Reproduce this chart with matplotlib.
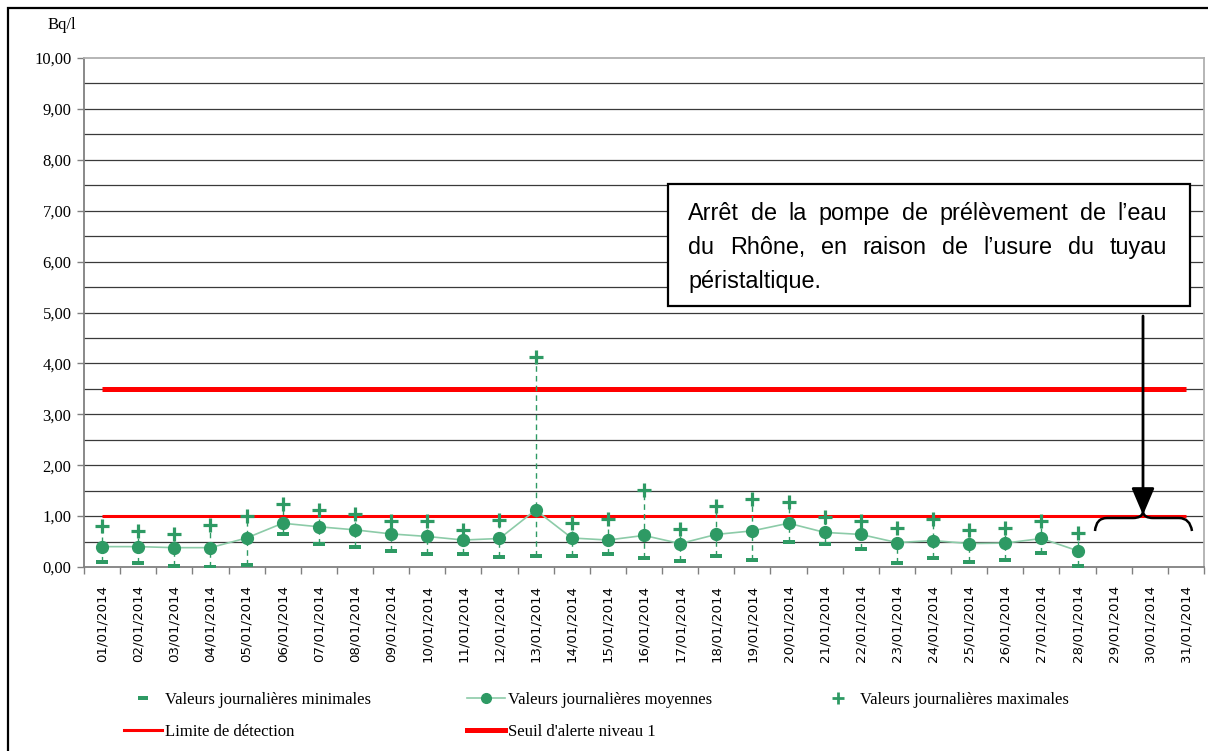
import matplotlib
matplotlib.use("Agg")
import matplotlib.pyplot as plt
from matplotlib.lines import Line2D
from matplotlib.patches import Rectangle, FancyArrowPatch, PathPatch
from matplotlib.path import Path
import numpy as np

# ---------------- data ----------------
dates = ["%02d/01/2014" % d for d in range(1, 32)]
val_min = [0.10, 0.07, 0.01, 0.00, 0.03, 0.64, 0.45, 0.40, 0.32, 0.26,
           0.26, 0.20, 0.22, 0.22, 0.26, 0.18, 0.11, 0.22, 0.14, 0.50,
           0.46, 0.35, 0.08, 0.18, 0.10, 0.14, 0.27, 0.01]
val_moy = [0.40, 0.40, 0.38, 0.38, 0.57, 0.86, 0.79, 0.73, 0.65, 0.60,
           0.53, 0.56, 1.12, 0.57, 0.53, 0.62, 0.46, 0.64, 0.71, 0.86,
           0.68, 0.64, 0.48, 0.52, 0.46, 0.47, 0.56, 0.32]
val_max = [0.81, 0.71, 0.64, 0.82, 1.00, 1.24, 1.12, 1.04, 0.91, 0.91,
           0.73, 0.92, 4.13, 0.87, 0.94, 1.51, 0.74, 1.20, 1.33, 1.28,
           0.99, 0.91, 0.77, 0.95, 0.72, 0.77, 0.91, 0.67]
limite_detection = 1.0
seuil_alerte = 3.5
y_ticks = [0, 1, 2, 3, 4, 5, 6, 7, 8, 9, 10]

legend_labels = ["Valeurs journalières minimales", "Valeurs journalières moyennes",
                 "Valeurs journalières maximales", "Limite de détection",
                 "Seuil d'alerte niveau 1"]
note_lines = ["Arrêt de la pompe de prélèvement de l’eau",
              "du Rhône, en raison de l’usure du tuyau",
              "péristaltique."]

# ---------------- figure ----------------
W, H = 1208, 751
fig = plt.figure(figsize=(W / 100, H / 100), dpi=100)
fig.patch.set_facecolor("white")

def px(x, y):
    return (x / W, 1 - y / H)

# outer frame
fig.patches.append(Rectangle(px(8, 800), (1300 - 8) / W, (800 - 8) / H,
                             transform=fig.transFigure, fill=False,
                             edgecolor="black", linewidth=1.6))

left, right, top, bottom = 84, 1204, 58, 567
ax = fig.add_axes([left / W, 1 - bottom / H, (right - left) / W, (bottom - top) / H])

GREEN = "#2E9A64"
GREEN_LIGHT = "#8CCBA8"
serif = "Liberation Serif"

n = len(dates)
x_all = np.arange(n)
xd = np.arange(len(val_moy))

# grid lines every 0.5
for g in np.arange(0.5, 10.0, 0.5):
    ax.axhline(g, color="#3a3a3a", lw=0.9, zorder=0)

# reference lines
ax.plot(x_all, [seuil_alerte] * n, color="#FF0000", lw=3.6, zorder=2, solid_capstyle="butt")
ax.plot(x_all, [limite_detection] * n, color="#FF0000", lw=2.2, zorder=2, solid_capstyle="butt")

# high-low dashed lines
ax.vlines(xd, val_min, val_max, colors=GREEN, linestyles=(0, (4, 3)), lw=1.0, zorder=3)

# series
bar_marker = [(-1.6, -0.55), (1.6, -0.55), (1.6, 0.55), (-1.6, 0.55), (-1.6, -0.55)]
ax.plot(xd, val_min, ls="none", marker=bar_marker, ms=9, color=GREEN, mew=0, zorder=4)
ax.plot(xd, val_moy, color=GREEN_LIGHT, lw=1.2, marker="o", ms=8.5,
        mfc=GREEN, mec=GREEN, zorder=4)
ax.plot(xd, val_max, ls="none", marker="+", ms=10, mew=2.3, color=GREEN, zorder=4)

ax.set_xlim(-0.5, n - 0.5)
ax.set_ylim(0, 10)

# ticks
ax.set_yticks(y_ticks)
ax.set_yticklabels([("%.2f" % v).replace(".", ",") for v in y_ticks],
                   fontfamily=serif, fontsize=12)
ax.tick_params(axis="y", direction="out", length=5, width=1, color="#808080", pad=4)

ax.set_xticks(np.arange(-0.5, n, 1.0))
ax.set_xticklabels([])
ax.set_xticks(x_all, minor=True)
ax.set_xticklabels(dates, minor=True, rotation=90, fontfamily="DejaVu Sans", fontsize=9.6)
ax.tick_params(axis="x", which="major", direction="out", length=5, width=1, color="#808080")
ax.tick_params(axis="x", which="minor", length=0, pad=13)

for s in ["left", "bottom"]:
    ax.spines[s].set_color("#808080")
    ax.spines[s].set_linewidth(1.3)
for s in ["top", "right"]:
    ax.spines[s].set_color("#B0B0B0")
    ax.spines[s].set_linewidth(1.3)

fig.text(*px(62, 25), "Bq/l", fontfamily=serif, fontsize=12, ha="center", va="center")

# ---------------- annotation box ----------------
fig.patches.append(Rectangle(px(668, 306), (1190 - 668) / W, (306 - 184) / H,
                             transform=fig.transFigure, facecolor="white",
                             edgecolor="black", linewidth=1.6, zorder=5))
renderer = fig.canvas.get_renderer()
tx0, tx1 = 688, 1167
baselines = [220, 254, 288]
fkw = dict(fontfamily="Liberation Sans", fontsize=16.8, va="baseline", ha="left", zorder=6)
for i, line in enumerate(note_lines):
    words = line.split(" ")
    if i < 2:
        widths = []
        tmp = []
        for w in words:
            t = fig.text(0, 0, w, **fkw)
            widths.append(t.get_window_extent(renderer).width)
            tmp.append(t)
        for t in tmp:
            t.remove()
        gap = (tx1 - tx0 - sum(widths)) / (len(words) - 1)
        xcur = tx0
        for w, wd in zip(words, widths):
            fig.text(*px(xcur, baselines[i]), w, **fkw)
            xcur += wd + gap
    else:
        fig.text(*px(tx0, baselines[i]), line, **fkw)

# arrow
arr = FancyArrowPatch(px(1143, 316), px(1143, 515), transform=fig.transFigure,
                      arrowstyle="-|>,head_length=0.75,head_width=0.32", mutation_scale=22,
                      lw=2.0, color="black", shrinkA=0, shrinkB=0, zorder=6)
fig.patches.append(arr)

# curly brace
pts = [px(1095, 531), px(1096, 518), px(1107, 518),
       px(1133, 518), px(1142, 518), px(1143, 512),
       px(1144, 518), px(1153, 518),
       px(1179, 518), px(1190, 518), px(1192, 531)]
codes = [Path.MOVETO, Path.CURVE3, Path.CURVE3,
         Path.LINETO, Path.CURVE3, Path.CURVE3,
         Path.CURVE3, Path.CURVE3,
         Path.LINETO, Path.CURVE3, Path.CURVE3]
fig.patches.append(PathPatch(Path(pts, codes), transform=fig.transFigure,
                             fill=False, lw=1.8, edgecolor="black", zorder=6))

# ---------------- legend ----------------
h_min = Line2D([], [], ls="none", marker=bar_marker, ms=7, color=GREEN, mew=0)
h_moy = Line2D([], [], color=GREEN_LIGHT, lw=1.2, marker="o", ms=7, mfc=GREEN, mec=GREEN)
h_max = Line2D([], [], ls="none", marker="+", ms=8, mew=2, color=GREEN)
h_lim = Line2D([], [], color="#FF0000", lw=2.2)
h_seu = Line2D([], [], color="#FF0000", lw=3.6)

lkw = dict(frameon=False, prop={"family": serif, "size": 12},
           handlelength=2.3, handletextpad=0.18, labelspacing=0.95,
           borderaxespad=0, borderpad=0)
leg1 = fig.legend([h_min, h_lim], [legend_labels[0], legend_labels[3]],
                  loc="center left", bbox_to_anchor=px(124, 716), **lkw)
leg2 = fig.legend([h_moy, h_seu], [legend_labels[1], legend_labels[4]],
                  loc="center left", bbox_to_anchor=px(467, 716), **lkw)
leg3 = fig.legend([h_max], [legend_labels[2]],
                  loc="center left", bbox_to_anchor=px(819, 700), **lkw)

fig.savefig("out.png", dpi=100)
